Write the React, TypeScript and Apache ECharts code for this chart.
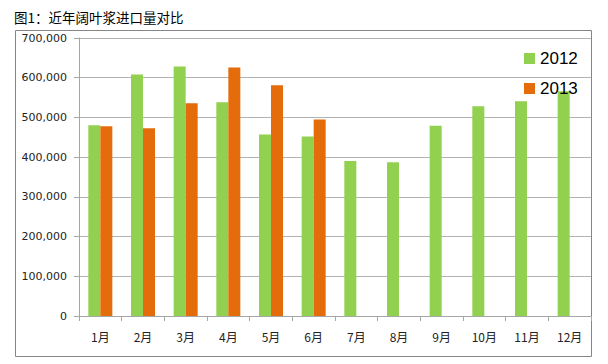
import React, { useEffect, useRef } from "react";
import * as echarts from "echarts";

const titleText = "图1：近年阔叶浆进口量对比";
const months = ["1月", "2月", "3月", "4月", "5月", "6月", "7月", "8月", "9月", "10月", "11月", "12月"];
const seriesNames = ["2012", "2013"];
const values2012 = [480000, 608000, 628000, 538000, 457000, 452000, 390000, 387000, 479000, 528000, 541000, 566000];
const values2013 = [478000, 473000, 536000, 626000, 581000, 495000, null, null, null, null, null, null];
const yMax = 700000;
const yInterval = 100000;

export default function App() {
  const ref = useRef<HTMLDivElement>(null);
  useEffect(() => {
    if (!ref.current) return;
    const chart = echarts.init(ref.current, null, { renderer: "svg" });
    chart.setOption({
      animation: false,
      backgroundColor: "#ffffff",
      title: {
        text: titleText,
        left: 9,
        top: 5,
        textStyle: { fontSize: 13.5, fontWeight: "normal", color: "#000", fontFamily: "Noto Sans CJK SC" },
      },
      graphic: [
        {
          type: "rect",
          shape: { x: 15.5, y: 30.5, width: 576, height: 326 },
          style: { fill: "none", stroke: "#868686", lineWidth: 1 },
          silent: true,
          z: 0,
        },
      ],
      legend: {
        orient: "vertical",
        left: 519,
        top: 45,
        itemWidth: 11,
        itemHeight: 11,
        itemGap: 13,
        icon: "rect",
        data: seriesNames,
        textStyle: { fontSize: 17, color: "#000", fontFamily: "Liberation Sans" },
      },
      grid: { left: 79, right: 17, top: 38, bottom: 48, containLabel: false },
      xAxis: {
        type: "category",
        data: months,
        axisLine: { show: true, lineStyle: { color: "#a6a6a6" } },
        axisTick: { show: true, length: 5, interval: 0, lineStyle: { color: "#a6a6a6" } },
        axisLabel: { interval: 0, margin: 14, fontSize: 12, color: "#222", fontFamily: "Noto Sans CJK SC" },
      },
      yAxis: {
        type: "value",
        min: 0,
        max: yMax,
        interval: yInterval,
        axisLine: { show: true, lineStyle: { color: "#a6a6a6" } },
        axisTick: { show: true, length: 5, lineStyle: { color: "#a6a6a6" } },
        splitLine: { show: true, lineStyle: { color: "#b3b3b3" } },
        axisLabel: {
          margin: 12,
          fontSize: 11,
          color: "#222",
          fontFamily: "DejaVu Sans",
          formatter: (v: number) => v.toLocaleString("en-US"),
        },
      },
      series: [
        {
          name: seriesNames[0],
          type: "bar",
          data: values2012,
          barWidth: 12,
          barGap: "0%",
          itemStyle: { color: "#92d050" },
        },
        {
          name: seriesNames[1],
          type: "bar",
          data: values2013,
          barWidth: 12,
          barGap: "0%",
          itemStyle: { color: "#e46c0a" },
        },
      ],
    });
    return () => chart.dispose();
  }, []);
  return <div ref={ref} style={{ width: 608, height: 364, position: "absolute", left: 0, top: 0 }} />;
}
